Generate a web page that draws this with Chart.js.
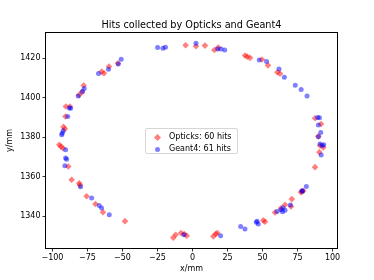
<!DOCTYPE html>
<html>
<head>
<meta charset="utf-8">
<script src="https://cdn.jsdelivr.net/npm/chart.js@4.4.0/dist/chart.umd.min.js"></script>
<style>
  html, body { margin: 0; padding: 0; background: #fff; }
  #wrap { position: relative; width: 374px; height: 280px; }
  #legend {
    position: absolute; left: 145px; top: 128px; width: 93px; height: 26px;
    box-sizing: border-box; border: 1px solid #d6d6d6; border-radius: 2px;
    background: rgba(255,255,255,0.8);
    font-family: "DejaVu Sans", sans-serif; font-size: 8px; color: #000;
  }
  #legend .row { position: absolute; left: 0; height: 10px; line-height: 10px; white-space: nowrap; }
  #legend .mark { position: absolute; width: 5px; height: 5px; }
  #legend .txt { position: absolute; left: 23px; top: 0; }
</style>
</head>
<body>
<div id="wrap">
  <canvas id="chart" width="374" height="280"></canvas>
  <div id="legend"></div>
</div>
<script>
// hit positions (mm)
var opticksX = [-90.7, -90.4, -87.5, -80.9, -77.7, -64.9, -63.2, -59.6, -53.2, -4.9,
  2.5, 8.9, 15.6, 18.4, 37.5, 39.1, 41.1, 49.6, 53.9, 60.6,
  62.5, 87.5, 91.8, 89.9, 93.4, 90.6, 87.5, 77.5, 79.1, 70.9,
  70.4, 66.1, 58.9, 50.6, 51.8, 17.7, 16.6, 14.9, -4.1, -5.9,
  -8.2, -12.0, -13.7, -48.2, -63.9, -69.3, -75.6, -80.9, -80.4, -86.3,
  -88.7, -95.1, -93.9, -92.5, -91.1, -92.1, -78.9, 63.2, 91.1, 78.0];
var opticksY = [1390.5, 1395.5, 1395.5, 1401.4, 1406.2, 1413.2, 1412.4, 1415.8, 1417.5, 1426.6,
  1426.1, 1426.4, 1424.2, 1425.4, 1421.4, 1420.8, 1420.2, 1419.4, 1416.4, 1412.9,
  1412.2, 1389.6, 1386.7, 1380.4, 1374.8, 1372.4, 1364.8, 1352.1, 1352.8, 1348.6,
  1344.9, 1345.7, 1341.8, 1337.8, 1337.1, 1331.4, 1330.9, 1329.7, 1330.0, 1330.9,
  1331.4, 1330.5, 1329.0, 1337.4, 1341.9, 1346.1, 1350.0, 1356.6, 1355.7, 1358.4,
  1365.1, 1376.1, 1375.2, 1374.4, 1384.1, 1385.2, 1402.9, 1343.9, 1375.8, 1352.4];

var geant4X = [-50.9, -53.0, -60.0, -67.1, -77.3, -78.6, -81.6, -87.0, -89.1, -24.9,
  -21.1, -19.3, 2.5, 18.0, 20.4, 23.0, 47.7, 52.9, 61.8, 65.6,
  73.4, 77.6, 81.8, 89.4, 89.9, 91.6, 89.9, 91.1, 92.7, 93.7,
  91.9, 81.3, 78.6, 69.9, 64.6, 63.2, 66.1, 64.3, 60.4, 45.6,
  47.0, 46.1, 34.4, 37.5, 20.1, -6.1, -59.4, -64.9, -66.6, -72.0,
  -79.9, -91.1, -90.6, -89.9, -90.6, -93.4, -93.0, -92.3, -87.9, 78.2,
  90.7];
var geant4Y = [1419.5, 1417.1, 1414.4, 1412.3, 1404.6, 1403.1, 1400.8, 1394.7, 1390.5, 1425.4,
  1425.1, 1425.6, 1427.6, 1424.7, 1424.7, 1424.2, 1419.1, 1418.3, 1414.6, 1410.4,
  1406.3, 1404.2, 1400.9, 1389.9, 1386.2, 1382.4, 1380.2, 1376.5, 1375.8, 1376.1,
  1371.0, 1355.0, 1352.6, 1345.6, 1344.2, 1343.2, 1342.9, 1342.2, 1342.3, 1336.8,
  1336.0, 1337.4, 1334.7, 1333.4, 1330.0, 1330.5, 1340.7, 1344.1, 1345.3, 1349.1,
  1354.8, 1365.5, 1369.4, 1368.8, 1373.6, 1381.2, 1382.0, 1383.2, 1394.8, 1352.8,
  1389.8];

var xTicks = [-100, -75, -50, -25, 0, 25, 50, 75, 100];
var yTicks = [1340, 1360, 1380, 1400, 1420];
var xLimits = [-104.6, 103.2];
var yLimits = [1323.8, 1432.8];

var TITLE = "Hits collected by Opticks and Geant4";
var FONT = "DejaVu Sans";

function toPoints(xs, ys) {
  var pts = [];
  for (var i = 0; i < xs.length; i++) pts.push({ x: xs[i], y: ys[i] });
  return pts;
}

function minusSign(v) {
  return String(v).replace("-", "\u2212");
}

// matplotlib style box round the axes + title centred over the axes
var framePlugin = {
  id: "frame",
  afterDraw: function (chart) {
    var a = chart.chartArea, ctx = chart.ctx;
    ctx.save();
    ctx.strokeStyle = "#000";
    ctx.lineWidth = 1;
    ctx.strokeRect(Math.round(a.left) - 0.5, Math.round(a.top) - 0.5,
      Math.round(a.right - a.left) + 1, Math.round(a.bottom - a.top) + 1);
    ctx.fillStyle = "#000";
    ctx.font = '9.7px "' + FONT + '"';
    ctx.textAlign = "center";
    ctx.textBaseline = "middle";
    ctx.fillText(TITLE, (a.left + a.right) / 2, 25);
    ctx.restore();
  }
};

var datasets = [
  {
    label: "Opticks: " + opticksX.length + " hits",
    data: toPoints(opticksX, opticksY),
    pointStyle: "rectRot",
    pointRadius: 3.3,
    backgroundColor: "rgba(255, 0, 0, 0.5)",
    borderColor: "rgba(255, 0, 0, 0.5)",
    borderWidth: 0,
    order: 1
  },
  {
    label: "Geant4: " + geant4X.length + " hits",
    data: toPoints(geant4X, geant4Y),
    pointStyle: "circle",
    pointRadius: 2.5,
    backgroundColor: "rgba(0, 0, 255, 0.5)",
    borderColor: "rgba(0, 0, 255, 0.5)",
    borderWidth: 0,
    order: 0
  }
];

var ctx = document.getElementById("chart").getContext("2d");
var chart = new Chart(ctx, {
  type: "scatter",
  data: { datasets: datasets },
  options: {
    responsive: false,
    animation: false,
    devicePixelRatio: 1,
    events: [],
    layout: { padding: { left: 0, right: 37, top: 33, bottom: 0 } },
    plugins: {
      legend: { display: false },
      tooltip: { enabled: false },
      title: { display: false }
    },
    scales: {
      x: {
        type: "linear",
        min: xLimits[0],
        max: xLimits[1],
        afterBuildTicks: function (s) { s.ticks = xTicks.map(function (v) { return { value: v }; }); },
        afterFit: function (s) { s.height = 32; },
        border: { display: false },
        grid: { drawOnChartArea: false, drawTicks: true, tickLength: 3.5, color: "#000", tickWidth: 0.8 },
        ticks: {
          autoSkip: false, maxRotation: 0, padding: 2, color: "#000",
          font: { family: FONT, size: 8 },
          callback: minusSign
        },
        title: {
          display: true, text: "x/mm", color: "#000",
          font: { family: FONT, size: 8 },
          padding: { top: 0, bottom: 6 }
        }
      },
      y: {
        type: "linear",
        min: yLimits[0],
        max: yLimits[1],
        afterBuildTicks: function (s) { s.ticks = yTicks.map(function (v) { return { value: v }; }); },
        afterFit: function (s) { s.width = 46; },
        border: { display: false },
        grid: { drawOnChartArea: false, drawTicks: true, tickLength: 3.5, color: "#000", tickWidth: 0.8 },
        ticks: {
          autoSkip: false, padding: 2, color: "#000",
          font: { family: FONT, size: 8 },
          callback: minusSign
        },
        title: {
          display: true, text: "y/mm", color: "#000",
          font: { family: FONT, size: 8 },
          padding: { top: 5, bottom: 0 }
        }
      }
    }
  },
  plugins: [framePlugin]
});

// legend box drawn inside the axes like matplotlib's
var legend = document.getElementById("legend");
datasets.forEach(function (ds, i) {
  var row = document.createElement("div");
  row.className = "row";
  row.style.top = (3 + i * 12) + "px";
  row.style.width = "100%";
  var mark = document.createElement("div");
  mark.className = "mark";
  mark.style.background = ds.backgroundColor;
  mark.style.left = "9px";
  mark.style.top = "2.5px";
  if (ds.pointStyle === "circle") {
    mark.style.borderRadius = "50%";
  } else {
    mark.style.transform = "rotate(45deg)";
  }
  var txt = document.createElement("span");
  txt.className = "txt";
  txt.textContent = ds.label;
  row.appendChild(mark);
  row.appendChild(txt);
  legend.appendChild(row);
});
</script>
</body>
</html>
